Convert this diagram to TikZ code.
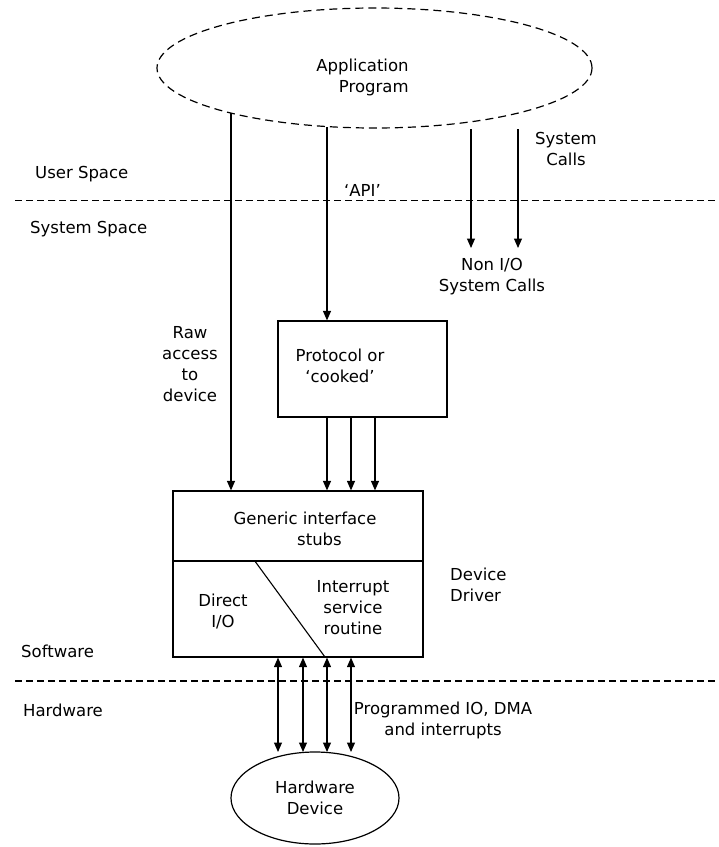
\documentclass[tikz,border=0pt]{standalone}
\usepackage{fontspec}
\setmainfont{DejaVu Sans}
\usetikzlibrary{arrows.meta,shapes.geometric}
\begin{document}
\begin{tikzpicture}[x=1pt,y=-1pt,
  txt/.style={font=\fontsize{16.5}{21}\selectfont, inner sep=0pt, align=center},
  box/.style={draw, line width=1.2pt, inner sep=0pt},
  arr/.style={line width=1.1pt, -{Triangle[length=9.5pt,width=8pt]}},
  darr/.style={line width=1.1pt, {Triangle[length=9.5pt,width=8pt]}-{Triangle[length=9.5pt,width=8pt]}},
  divide/.style={line width=1.1pt, dash pattern=on 6.5pt off 4.5pt},
]
\useasboundingbox (0,0) rectangle (719,847);

% application program
\node[box, ellipse, dash pattern=on 8pt off 5pt, minimum width=435pt, minimum height=120pt] (app) at (374.5,68) {};
\node[txt, align=right] (apptxt) at (362.5,77.5) {Application\\Program};

% protocol layer
\node[box, minimum width=169pt, minimum height=96pt] (proto) at (362.5,369) {};
\node[txt] (prototxt) at (340,366) {Protocol or\\‘cooked’};

% device driver
\node[box, minimum width=250pt, minimum height=70pt] (stubs) at (298,526) {};
\node[txt] (stubstxt) at (305,529) {Generic interface\\\hspace*{29pt}stubs};
\node[box, minimum width=250pt, minimum height=96pt] (lower) at (298,609) {};
\draw[line width=1.1pt] ([xshift=82pt]lower.north west) -- ([xshift=153pt]lower.south west);
\node[txt] (direct) at (223,611) {Direct\\I/O};
\node[txt] (isr) at (353,608) {Interrupt\\service\\routine};
\node[txt, anchor=west, align=left] (drvlbl) at (450,585) {Device\\Driver};

% hardware
\node[box, ellipse, txt, minimum width=168pt, minimum height=92pt] (hw) at (315,798) {Hardware\\Device};

% layer labels
\node[txt, anchor=west] (user) at (35,174) {User Space};
\node[txt, anchor=west] (sys) at (30,229) {System Space};
\node[txt, anchor=west] (sw) at (21,651) {Software};
\node[txt, anchor=west] (hwl) at (23,710) {Hardware};

% other labels
\node[txt] (api) at (362.5,190) {‘API’};
\node[txt] (syscalls) at (566,149) {System\\Calls};
\node[txt] (nonio) at (492,277) {Non I/O\\System Calls};
\node[txt] (raw) at (190,364) {Raw\\access\\to\\device};
\node[txt] (pio) at (443,720) {Programmed IO, DMA\\and interrupts};

% layer boundaries
\coordinate (ul) at (15,200.7); \coordinate (ur) at (719,200.7);
\coordinate (hl) at (15,681);   \coordinate (hr) at (719,681);
\draw[divide] (ul) -- (ur);
\draw[divide] (hl) -- (hr);

% calls from the application
\coordinate (rawtop) at (231,113);
\draw[arr] (rawtop) -- (rawtop |- stubs.north);
\coordinate (apitop) at (327,127);
\draw[arr] (apitop) -- (apitop |- proto.north);
\coordinate (s1) at (471,129); \coordinate (s1e) at (471,248);
\coordinate (s2) at (518,129); \coordinate (s2e) at (518,248);
\draw[arr] (s1) -- (s1e);
\draw[arr] (s2) -- (s2e);

% protocol to driver
\foreach \x in {327,351,375} {
  \coordinate (p\x) at (\x,0);
  \draw[arr] (p\x |- proto.south) -- (p\x |- stubs.north);
}

% driver to hardware
\coordinate (hwtop) at (315,752);
\foreach \x in {278,303,327,351} {
  \coordinate (d\x) at (\x,0);
  \draw[darr] (d\x |- lower.south) -- (d\x |- hwtop);
}
\end{tikzpicture}
\end{document}
